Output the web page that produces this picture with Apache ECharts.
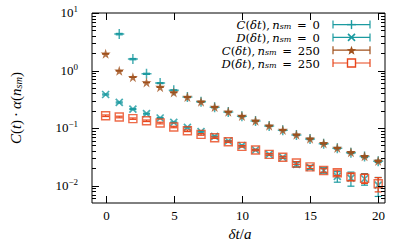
<!DOCTYPE html>
<html>
<head>
<meta charset="utf-8">
<script src="https://cdn.jsdelivr.net/npm/echarts@6/dist/echarts.min.js"></script>
<style>
html,body{margin:0;padding:0;background:#fff;}
#chart{width:407px;height:247px;}
</style>
</head>
<body>
<div id="chart"></div>
<script>
// ---------------- data ----------------
const tValues = [0,1,2,3,4,5,6,7,8,9,10,11,12,13,14,15,16,17,18,19,20];

const C0    = [null, 4.3, 1.58, 0.877, 0.605, 0.455, 0.346, 0.286, 0.230, 0.190, 0.160, 0.133, 0.109, 0.092, 0.0760, 0.0648, 0.0537, 0.0447, 0.0375, 0.0320, 0.0265];
const C0err = [null, 0.12, 0.04, 0.02, 0.012, 0.009, 0.007, 0.006, 0.005, 0.004, 0.0035, 0.003, 0.0025, 0.002, 0.002, 0.0018, 0.0016, 0.0015, 0.0014, 0.0013, 0.0012];

const D0    = [0.384, 0.279, 0.214, 0.178, 0.150, 0.126, 0.103, 0.0866, 0.0718, 0.0597, 0.0495, 0.0417, 0.0350, 0.0310, 0.0235, 0.0208, 0.0185, 0.0145, 0.0135, 0.0132, 0.0102];
const D0err = [0.008, 0.006, 0.004, 0.003, 0.003, 0.002, 0.002, 0.0015, 0.0012, 0.001, 0.001, 0.0009, 0.0009, 0.0009, 0.0025, 0.0015, 0.002, 0.003, 0.0037, 0.003, 0.0037];

const C250    = [1.95, 0.99, 0.768, 0.620, 0.515, 0.416, 0.346, 0.288, 0.232, 0.192, 0.162, 0.134, 0.110, 0.0927, 0.0769, 0.0655, 0.0543, 0.0452, 0.0379, 0.0324, 0.0269];
const C250err = [0.02, 0.01, 0.008, 0.006, 0.005, 0.004, 0.003, 0.003, 0.002, 0.002, 0.0015, 0.0013, 0.0011, 0.001, 0.0009, 0.0008, 0.0007, 0.0007, 0.0006, 0.0006, 0.0006];

const D250    = [0.164, 0.156, 0.146, 0.134, 0.1225, 0.1045, 0.090, 0.0778, 0.0682, 0.0581, 0.0482, 0.0417, 0.0350, 0.0312, 0.0248, 0.0212, 0.0184, 0.0168, 0.0142, 0.0134, 0.0108];
const D250err = [0.005, 0.005, 0.004, 0.004, 0.004, 0.003, 0.003, 0.0025, 0.002, 0.0018, 0.0015, 0.0013, 0.0012, 0.0012, 0.0013, 0.0013, 0.0013, 0.0018, 0.002, 0.0025, 0.003];

const xTickValues = [0, 5, 10, 15, 20];
const yTickValues = [0.01, 0.1, 1, 10];
const yTickExponents = ['\u22122', '\u22121', '0', '1'];
const yMinorMultipliers = [2, 3, 4, 5, 6, 7, 8, 9];
const yMinorDecades = [0.001, 0.01, 0.1, 1];

const seriesNames = ['C(δt), n_sm = 0', 'D(δt), n_sm = 0', 'C(δt), n_sm = 250', 'D(δt), n_sm = 250'];
const legendSub = ['0', '0', '250', '250'];
const legendLetter = ['C', 'D', 'C', 'D'];

// ---------------- styling ----------------
const TEAL = '#1b9aa0';
const BROWN = '#a0501c';
const RED = '#e8461c';
const FONT = 'Liberation Serif';
const LFONT = 'DejaVu Serif';
const xMin = -1, xMax = 20.5, yMin = 0.005, yMax = 10;

const plusPath = 'path://M5,0L5,10M0,5L10,5';
const starPath = 'path://M50,0L61.8,35.4L100,35.4L69.1,57.3L80.9,95.1L50,72.4L19.1,95.1L30.9,57.3L0,35.4L38.2,35.4Z';

function pairs(vals, errs) {
  const out = [];
  for (let i = 0; i < tValues.length; i++) {
    if (vals[i] == null) continue;
    out.push([tValues[i], vals[i], errs[i]]);
  }
  return out;
}

function errRender(color) {
  return function (params, api) {
    const x = api.value(0), v = api.value(1), e = api.value(2);
    const lo = Math.max(v - e, 1e-6);
    const p1 = api.coord([x, lo]);
    const p2 = api.coord([x, v + e]);
    const c = 3.5;
    const st = { stroke: color, lineWidth: 1.2 };
    return {
      type: 'group',
      children: [
        { type: 'line', shape: { x1: p1[0], y1: p1[1], x2: p2[0], y2: p2[1] }, style: st },
        { type: 'line', shape: { x1: p1[0] - c, y1: p1[1], x2: p1[0] + c, y2: p1[1] }, style: st },
        { type: 'line', shape: { x1: p2[0] - c, y1: p2[1], x2: p2[0] + c, y2: p2[1] }, style: st }
      ]
    };
  };
}

// axis frame ticks & labels
const tickData = [];
xTickValues.forEach((v, i) => tickData.push([v, 1, 0, i]));
yTickValues.forEach((v, i) => tickData.push([0, v, 1, i]));
yMinorDecades.forEach(d => yMinorMultipliers.forEach(m => {
  const v = +(d * m).toPrecision(3);
  if (v > yMin && v < yMax) tickData.push([0, v, 2, -1]);
}));

function tickRender(params, api) {
  const cs = params.coordSys;
  const kind = api.value(2), idx = api.value(3);
  const st = { stroke: '#000', lineWidth: 1 };
  const ch = [];
  const left = cs.x, right = cs.x + cs.width, top = cs.y, bottom = cs.y + cs.height;
  if (kind === 0) {
    const px = Math.round(api.coord([api.value(0), 1])[0]) + 0.5;
    ch.push({ type: 'line', shape: { x1: px, y1: bottom, x2: px, y2: bottom - 7 }, style: st });
    ch.push({ type: 'line', shape: { x1: px, y1: top, x2: px, y2: top + 7 }, style: st });
    ch.push({ type: 'text', x: px, y: bottom + 12, style: {
      text: String(xTickValues[idx]), fill: '#000', font: '13px "' + FONT + '"',
      align: 'center', verticalAlign: 'middle' } });
  } else {
    const py = Math.round(api.coord([0, api.value(1)])[1]) + 0.5;
    const len = kind === 1 ? 7 : 4;
    ch.push({ type: 'line', shape: { x1: left, y1: py, x2: left + len, y2: py }, style: st });
    ch.push({ type: 'line', shape: { x1: right, y1: py, x2: right - len, y2: py }, style: st });
    if (kind === 1) {
      ch.push({ type: 'text', x: left - 14, y: py - 2, style: {
        text: '{b|10}{s|' + yTickExponents[idx] + '}', align: 'right', verticalAlign: 'middle',
        fill: '#000',
        rich: {
          b: { fontFamily: FONT, fontSize: 13, lineHeight: 14, padding: [1.5, 0, 0, 0], verticalAlign: 'bottom', fill: '#000' },
          s: { fontFamily: FONT, fontSize: 9, lineHeight: 9, verticalAlign: 'top', fill: '#000' }
        } } });
    }
  }
  return { type: 'group', children: ch };
}

const mathRich = {
  i: { fontFamily: FONT, fontStyle: 'italic', fontSize: 15, lineHeight: 12, verticalAlign: 'top', fill: '#000' },
  r: { fontFamily: FONT, fontSize: 15, lineHeight: 12, verticalAlign: 'top', fill: '#000' },
  sub: { fontFamily: FONT, fontStyle: 'italic', fontSize: 10.5, lineHeight: 7, padding: [5, 0, 0, 0], verticalAlign: 'top', fill: '#000' }
};
const legendRich = {
  i: { fontFamily: LFONT, fontStyle: 'italic', fontSize: 11.6, lineHeight: 11, verticalAlign: 'top', fill: '#000' },
  r: { fontFamily: LFONT, fontSize: 11.6, lineHeight: 11, verticalAlign: 'top', fill: '#000' },
  sub: { fontFamily: LFONT, fontStyle: 'italic', fontSize: 8, lineHeight: 7, padding: [3.5, 0, 0, 0], verticalAlign: 'top', fill: '#000' }
};

// legend (key) graphics
const legendColors = [TEAL, TEAL, BROWN, RED];
const legendY = [24.6, 37.4, 50.2, 63];
const graphics = [];
legendY.forEach((y, k) => {
  graphics.push({ type: 'text', x: 320, y: y, style: {
    text: '{i|' + legendLetter[k] + '}{r|(}{i|δt}{r|),\u2009}{i|n}{sub|sm}{r|\u2002=\u2002' + legendSub[k] + '}',
    align: 'right', verticalAlign: 'middle', rich: legendRich } });
  const col = legendColors[k];
  const st = { stroke: col, lineWidth: 1.2 };
  graphics.push({ type: 'line', shape: { x1: 333, y1: y, x2: 370, y2: y }, style: st });
  graphics.push({ type: 'line', shape: { x1: 333, y1: y - 4, x2: 333, y2: y + 4 }, style: st });
  graphics.push({ type: 'line', shape: { x1: 370, y1: y - 4, x2: 370, y2: y + 4 }, style: st });
});
// legend marker glyphs
graphics.push({ type: 'group', x: 351.5, y: legendY[0], children: [
  { type: 'line', shape: { x1: 0, y1: -4.5, x2: 0, y2: 4.5 }, style: { stroke: TEAL, lineWidth: 1.4 } },
  { type: 'line', shape: { x1: -4.5, y1: 0, x2: 4.5, y2: 0 }, style: { stroke: TEAL, lineWidth: 1.4 } } ] });
graphics.push({ type: 'group', x: 351.5, y: legendY[1], children: [
  { type: 'line', shape: { x1: -3.5, y1: -3.5, x2: 3.5, y2: 3.5 }, style: { stroke: TEAL, lineWidth: 1.6 } },
  { type: 'line', shape: { x1: 3.5, y1: -3.5, x2: -3.5, y2: 3.5 }, style: { stroke: TEAL, lineWidth: 1.6 } } ] });
const starPts = [];
for (let k = 0; k < 10; k++) {
  const r = k % 2 === 0 ? 5 : 2.1;
  const a = -Math.PI / 2 + k * Math.PI / 5;
  starPts.push([r * Math.cos(a), r * Math.sin(a)]);
}
graphics.push({ type: 'polygon', x: 351.5, y: legendY[2] + 0.5, shape: { points: starPts }, style: { fill: BROWN } });
graphics.push({ type: 'rect', shape: { x: 351.5 - 4, y: legendY[3] - 4, width: 8, height: 8 },
  style: { fill: '#fff', stroke: RED, lineWidth: 1.4 } });

// axis titles
graphics.push({ type: 'text', x: 240, y: 232, style: {
  text: '{i|δt}{r|/}{i|a}', align: 'center', verticalAlign: 'middle', rich: mathRich } });
graphics.push({ type: 'text', x: 14, y: 108, rotation: Math.PI / 2, style: {
  text: '{i|C}{r|(}{i|t}{r|)\u2009·\u2009}{i|α}{r|(}{i|n}{sub|sm}{r|)}', align: 'center', verticalAlign: 'middle', rich: mathRich } });

const chart = echarts.init(document.getElementById('chart'), null, { renderer: 'svg' });
chart.setOption({
  animation: false,
  backgroundColor: '#fff',
  grid: { left: 92, right: 22, top: 13, bottom: 44, show: true, borderColor: '#000', borderWidth: 1, backgroundColor: 'transparent' },
  xAxis: { type: 'value', min: xMin, max: xMax, axisLine: { show: false }, axisTick: { show: false }, axisLabel: { show: false }, splitLine: { show: false } },
  yAxis: { type: 'log', logBase: 10, min: yMin, max: yMax, axisLine: { show: false }, axisTick: { show: false }, axisLabel: { show: false }, splitLine: { show: false }, minorTick: { show: false } },
  graphic: graphics,
  series: [
    { type: 'custom', name: 'ticks', data: tickData, renderItem: tickRender, clip: false, silent: true, z: 10 },
    { type: 'custom', name: seriesNames[0] + ' err', data: pairs(C0, C0err), renderItem: errRender(TEAL), clip: true, silent: true, z: 2 },
    { type: 'scatter', name: seriesNames[0], data: pairs(C0, C0err).map(p => [p[0], p[1]]), symbol: plusPath, symbolSize: 10,
      itemStyle: { color: 'rgba(0,0,0,0)', borderColor: TEAL, borderWidth: 1.5 }, silent: true, z: 2 },
    { type: 'custom', name: seriesNames[1] + ' err', data: pairs(D0, D0err), renderItem: errRender(TEAL), clip: true, silent: true, z: 3 },
    { type: 'scatter', name: seriesNames[1], data: pairs(D0, D0err).map(p => [p[0], p[1]]), symbol: 'path://M0,0L10,10M10,0L0,10', symbolSize: 7,
      itemStyle: { color: 'rgba(0,0,0,0)', borderColor: TEAL, borderWidth: 1.7 }, silent: true, z: 3 },
    { type: 'custom', name: seriesNames[2] + ' err', data: pairs(C250, C250err), renderItem: errRender(BROWN), clip: true, silent: true, z: 4 },
    { type: 'scatter', name: seriesNames[2], data: pairs(C250, C250err).map(p => [p[0], p[1]]), symbol: starPath, symbolSize: 10,
      itemStyle: { color: BROWN }, silent: true, z: 4 },
    { type: 'custom', name: seriesNames[3] + ' err', data: pairs(D250, D250err), renderItem: errRender(RED), clip: true, silent: true, z: 5 },
    { type: 'scatter', name: seriesNames[3], data: pairs(D250, D250err).map(p => [p[0], p[1]]), symbol: 'rect', symbolSize: 8,
      itemStyle: { color: 'rgba(0,0,0,0)', borderColor: RED, borderWidth: 1.4 }, silent: true, z: 5 }
  ]
});
</script>
</body>
</html>
